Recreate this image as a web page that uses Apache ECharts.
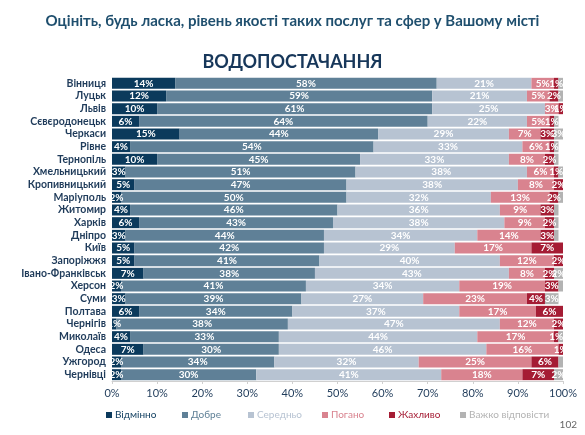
<!DOCTYPE html>
<html><head><meta charset="utf-8">
<script src="https://cdn.jsdelivr.net/npm/echarts@6/dist/echarts.min.js"></script>
<style>html,body{margin:0;padding:0;background:#fff;}#c{width:585px;height:435px;}</style>
</head><body><div id="c"></div>
<script>
const cities = ['Вінниця','Луцьк','Львів','Сєвєродонецьк','Черкаси','Рівне','Тернопіль','Хмельницький','Кропивницький','Маріуполь','Житомир','Харків','Дніпро','Київ','Запоріжжя','Івано-Франківськ','Херсон','Суми','Полтава','Чернігів','Миколаїв','Одеса','Ужгород','Чернівці'];
const excellent = [14,12,10,6,15,4,10,3,5,2,4,6,3,5,5,7,2,3,6,1,4,7,2,2];
const good      = [58,59,61,64,44,54,45,51,47,50,46,43,44,42,41,38,41,39,34,38,33,30,34,30];
const average   = [21,21,25,22,29,33,33,38,38,32,36,38,34,29,40,43,34,27,37,47,44,46,32,41];
const bad       = [5,5,3,5,7,6,8,6,8,13,9,9,14,17,12,8,19,23,17,12,17,16,25,18];
const terrible  = [1,2,1,1,3,1,2,1,2,2,3,2,3,7,2,2,3,4,6,2,1,1,6,7];
const hard      = [1,1,0,1,3,1,1,1,0,1,1,1,1,0,0,2,1,3,1,0,1,0,1,2];
const seriesNames = ['Відмінно','Добре','Середньо','Погано','Жахливо','Важко відповісти'];
const xTicks = [0,10,20,30,40,50,60,70,80,90,100];

const colors = ['#0b3a5c','#5f8097','#b7c3d2','#d9838f','#a51c34','#b3b3b3'];
const legendLeft = [101,177,243,317,384,455];
const dataSets = [excellent,good,average,bad,terrible,hard];
const font = 'Lato, "Open Sans", sans-serif';

const series = dataSets.map((d,i)=>({
  name: seriesNames[i], type:'bar', stack:'s', data:d, barWidth: 11,
  itemStyle:{color:colors[i]},
  label:{show:true, position:'inside', color:'#fff', fontSize:10, fontWeight:'bold', fontFamily:font,
    formatter: p => (i===5 && p.value<2) || p.value===0 ? '' : p.value+'%'}
}));

const legends = seriesNames.map((n,i)=>({
  data:[n], left:legendLeft[i], top:405, itemWidth:6, itemHeight:6, icon:'rect', itemGap:4,
  textStyle:{fontSize:10, fontFamily:font, color:colors[i], padding:[0,0,0,-2]}
}));

const chart = echarts.init(document.getElementById('c'));
chart.setOption({
  animation:false,
  title:[
    {text:'Оцініть, будь ласка, рівень якості таких послуг та сфер у Вашому місті', left:'center', top:9,
     textStyle:{fontSize:15, fontWeight:'bold', color:'#1f4f6e', fontFamily:font}},
    {text:'ВОДОПОСТАЧАННЯ', left:'center', top:48, textStyle:{fontSize:18, fontWeight:'bold', color:'#17375a', fontFamily:font}}
  ],
  grid:{left:112, right:22, top:77, bottom:54},
  xAxis:{type:'value', min:0, max:100, interval:10,
    axisLabel:{formatter:v=> xTicks.includes(v)? v+'%':'', color:'#1f3b5a', fontSize:11, fontFamily:font, margin:7},
    splitLine:{show:false},
    axisLine:{show:true, lineStyle:{color:'#d0d0d0'}},
    axisTick:{show:true, length:3, lineStyle:{color:'#d0d0d0'}}},
  yAxis:{type:'category', data:cities, inverse:true,
    axisLine:{show:false}, axisTick:{show:false},
    axisLabel:{interval:0, color:'#1f3b5a', fontSize:10.5, fontWeight:'bold', fontFamily:font, margin:6}},
  legend:legends,
  graphic:[{type:'text', right:8, top:420, style:{text:'102', fill:'#666', fontSize:10, fontFamily:font}}],
  series
});
</script></body></html>
